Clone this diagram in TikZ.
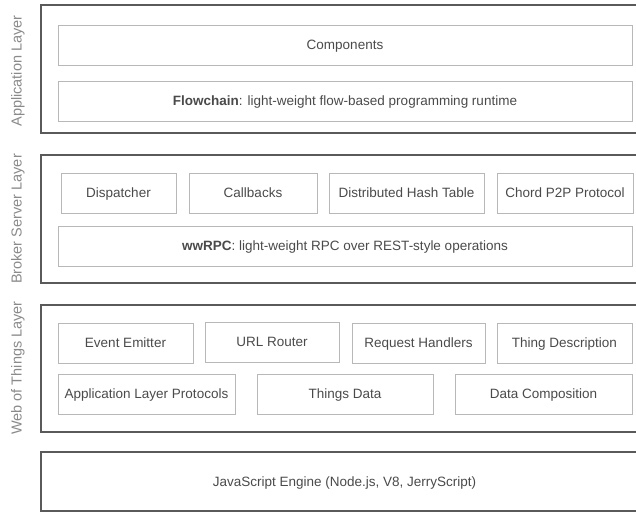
\documentclass[tikz,border=0pt]{standalone}
\usepackage{fontspec}
\setmainfont{Liberation Sans}
\definecolor{outerc}{HTML}{5A5A5A}
\definecolor{innerc}{HTML}{B8B8B8}
\definecolor{textc}{HTML}{4A4A4A}
\definecolor{labelc}{HTML}{8A8A8A}
% box from (x1,y1) to (x2,y2), y measured downwards
\newcommand\partbox[7][part]{%
  \node[#1, minimum width={(#5-#3)*1pt}, minimum height={(#6-#4)*1pt}]
    (#2) at ({(#3+#5)/2},{(#4+#6)/2}) {#7};}
\begin{document}
\begin{tikzpicture}[x=1pt,y=-1pt,
  layer/.style={draw=outerc, line width=2.6pt, inner sep=0pt, text=textc,
    font=\fontsize{13.5}{16}\selectfont, text height=2.1ex, text depth=0.25ex},
  part/.style={draw=innerc, line width=0.9pt, inner sep=0pt, text=textc,
    font=\fontsize{13.5}{16}\selectfont, text height=2.1ex, text depth=0.25ex},
  side/.style={rotate=90, text=labelc, inner sep=0pt,
    font=\fontsize{14.5}{16}\selectfont}]
\useasboundingbox (0,0) rectangle (636,512);
\clip (0,0) rectangle (636,512);

% Application layer
\partbox[layer]{app}{41}{5}{648}{133}{}
\partbox{components}{58}{25}{632}{65}{Components}
\partbox{flowchain}{58}{81}{632}{121}{\textbf{Flowchain}: light-weight flow-based programming runtime}
\node[side] (applabel) at (18,71) {Application Layer};

% Broker server layer
\partbox[layer]{broker}{41}{155}{648}{283}{}
\partbox{dispatcher}{61}{173}{176}{213}{Dispatcher}
\partbox{callbacks}{189}{173}{317}{213}{Callbacks}
\partbox{dht}{329}{173}{484}{213}{Distributed Hash Table}
\partbox{chord}{497}{173}{633}{213}{Chord P2P Protocol}
\partbox{wwrpc}{58}{226}{632}{266}{\textbf{wwRPC}: light-weight RPC over REST-style operations}
\node[side] (brokerlabel) at (18,219) {Broker Server Layer};

% Web of Things layer
\partbox[layer]{wot}{41}{305}{648}{432}{}
\partbox{emitter}{58}{323}{193}{363}{Event Emitter}
\partbox{router}{205}{322}{339}{362}{URL Router}
\partbox{handlers}{352}{323}{485}{363}{Request Handlers}
\partbox{thingdesc}{497}{323}{632}{363}{Thing Description}
\partbox{protocols}{58}{374}{235}{414}{Application Layer Protocols}
\partbox{thingsdata}{257}{374}{433}{414}{Things Data}
\partbox{composition}{455}{374}{632}{414}{Data Composition}
\node[side] (wotlabel) at (18,368) {Web of Things Layer};

% JavaScript engine
\partbox[layer]{js}{41}{452}{648}{511}{JavaScript Engine (Node.js, V8, JerryScript)}
\end{tikzpicture}
\end{document}
